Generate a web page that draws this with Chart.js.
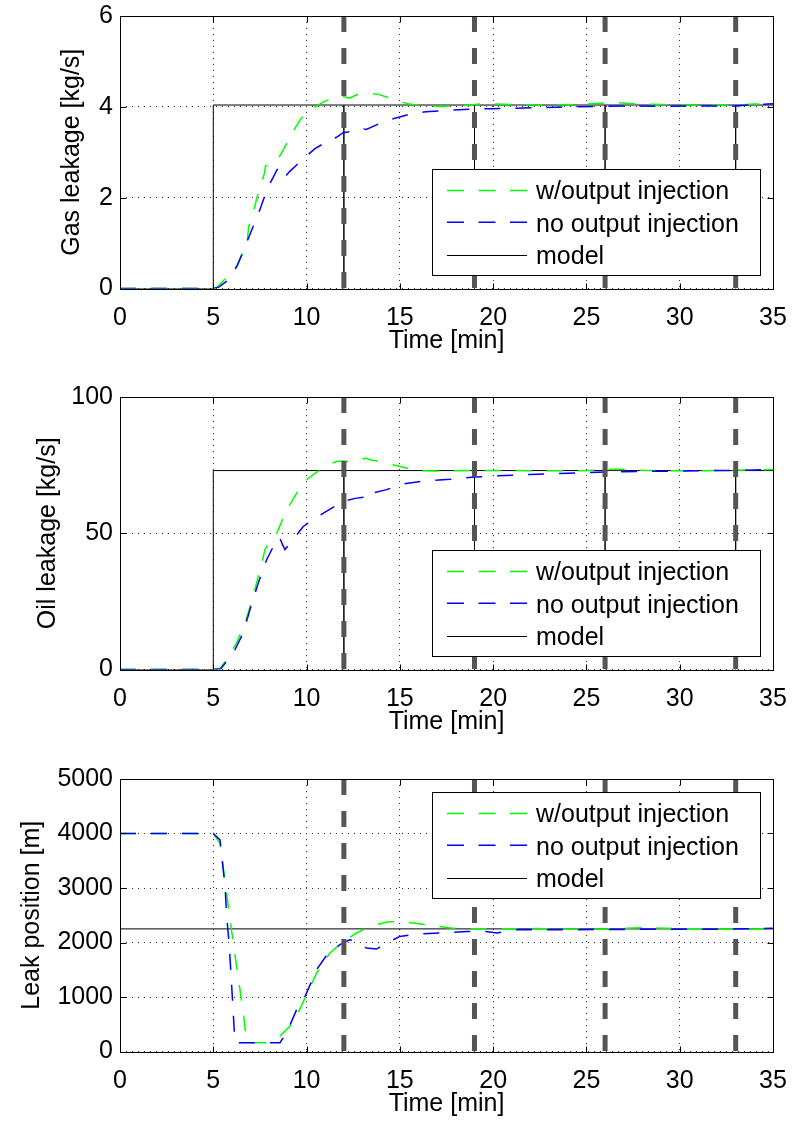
<!DOCTYPE html>
<html><head><meta charset="utf-8">
<script src="https://cdn.jsdelivr.net/npm/chart.js@4/dist/chart.umd.min.js"></script>
<style>
html,body{margin:0;padding:0;background:#fff;}
body{width:792px;height:1124px;position:relative;overflow:hidden;}
canvas{position:absolute;left:0;display:block;}
</style></head><body>
<canvas id="c1" width="792" height="375" style="top:0px"></canvas>
<canvas id="c2" width="792" height="375" style="top:381px"></canvas>
<canvas id="c3" width="792" height="361" style="top:763px"></canvas>
<script>
const FONT = "'Liberation Sans', Arial, Helvetica, sans-serif";

// ---- shared axis data ----
const timeTicks = [0, 5, 10, 15, 20, 25, 30, 35];
const sampleTimes = [12, 19, 26, 33];
const leakStart = 5;
const seriesLabels = ['w/output injection', 'no output injection', 'model'];

// ---- Gas leakage [kg/s] ----
const gasTicks = [0, 2, 4, 6];
const gasInjT = [0, 5, 5.2, 5.6, 6.0, 6.3, 6.6, 6.8, 6.9, 7.1, 7.35, 7.6, 7.75, 7.8, 8.0, 8.2, 8.4, 8.75, 9.2, 9.7, 10.2, 10.9, 11.6, 12.0, 12.3, 12.7, 13.2, 13.8, 14.6, 15.0, 15.5, 16.2, 17.3, 18.5, 19.5, 21, 23, 25, 26.4, 27.5, 29, 31, 33, 34, 35];
const gasInjV = [0, 0, 0.03, 0.2, 0.38, 0.52, 0.8, 0.98, 1.36, 1.6, 2.02, 2.35, 2.55, 2.7, 2.72, 2.75, 2.8, 3.05, 3.41, 3.74, 3.93, 4.11, 4.22, 4.22, 4.19, 4.27, 4.30, 4.28, 4.18, 4.12, 4.06, 4.02, 4.01, 4.03, 4.07, 4.05, 4.04, 4.06, 4.10, 4.07, 4.05, 4.04, 4.04, 4.06, 4.08];
const gasNoT = [0, 5, 5.3, 5.9, 6.3, 6.7, 7.06, 7.4, 7.68, 8.04, 8.4, 8.5, 8.65, 8.84, 9.1, 9.47, 10.0, 10.45, 11.07, 11.6, 11.96, 12.4, 12.9, 13.0, 13.2, 13.9, 14.5, 15.18, 15.8, 16.4, 17.7, 18.9, 20, 22.1, 24, 25.7, 27, 29.3, 31, 33, 34, 35];
const gasNoV = [0, 0, 0.03, 0.22, 0.52, 0.92, 1.29, 1.62, 1.95, 2.31, 2.6, 2.66, 2.5, 2.46, 2.58, 2.72, 2.92, 3.08, 3.23, 3.33, 3.43, 3.46, 3.48, 3.52, 3.5, 3.63, 3.72, 3.8, 3.86, 3.89, 3.93, 3.95, 3.96, 3.98, 4.0, 4.01, 4.02, 4.01, 4.02, 4.02, 4.05, 4.07];
const gasModel = 4.04;

// ---- Oil leakage [kg/s] ----
const oilTicks = [0, 50, 100];
const oilInjT = [0, 5, 5.36, 5.8, 6.25, 6.7, 6.97, 7.32, 7.6, 7.77, 7.86, 8.1, 8.4, 8.93, 9.47, 10.09, 10.72, 11.2, 11.6, 12.0, 12.4, 12.68, 13.2, 13.5, 13.9, 14.5, 15.18, 15.9, 17.3, 19, 21, 23, 25, 26.5, 28, 30, 32, 34, 35];
const oilInjV = [0, 0, 0.3, 4.5, 9.8, 17, 23, 31.7, 39, 44, 45, 47.5, 50, 58.6, 64.7, 70.2, 73.3, 75.2, 76.3, 76.5, 76.0, 76.9, 77.5, 76.8, 76.5, 75.3, 74.2, 73, 72.8, 73.1, 73.0, 72.9, 73.0, 73.5, 73.1, 72.9, 73.0, 73.2, 73.4];
const oilNoT = [0, 5, 5.4, 6.07, 6.6, 6.97, 7.41, 7.86, 8.4, 8.55, 8.7, 8.84, 9.2, 9.82, 10.9, 11.96, 12.6, 13.04, 13.2, 13.4, 14.29, 15.18, 16.4, 17.7, 19, 20, 22, 24, 26, 28, 30, 32, 34, 35];
const oilNoV = [0, 0, 0.3, 6, 13.4, 22, 31.7, 40.3, 47.6, 48.5, 46, 44, 47, 52.5, 57.4, 61.7, 62.8, 63.2, 62.5, 64.5, 66, 68.1, 69.3, 69.8, 70.6, 71.0, 71.6, 72.0, 72.5, 72.7, 72.8, 73.0, 73.2, 73.4];
const oilModel = 73;

// ---- Leak position [m] ----
const posTicks = [0, 1000, 2000, 3000, 4000, 5000];
const posInjT = [0, 5, 5.36, 5.9, 6.25, 6.61, 6.79, 7.86, 8.2, 8.57, 9.29, 9.92, 10.54, 11.25, 11.96, 12.68, 13.4, 14.29, 15.0, 16.4, 17.7, 18.6, 20, 22, 24, 26, 28, 30, 32, 34, 35];
const posInjV = [4000, 4000, 3822, 2418, 1562, 709, 160, 160, 220, 282, 526, 983, 1441, 1808, 2020, 2174, 2296, 2375, 2387, 2326, 2265, 2253, 2250, 2255, 2250, 2250, 2270, 2255, 2250, 2250, 2255];
const posNoT = [0, 5, 5.36, 5.63, 5.72, 5.86, 6.07, 6.16, 8.57, 8.93, 9.47, 9.92, 10.54, 11.16, 11.79, 12.3, 12.68, 13.2, 13.75, 14.29, 15.0, 16.1, 17.7, 18.6, 19.6, 20.2, 21.25, 24, 27, 29.3, 32, 35];
const posNoV = [4000, 4000, 3883, 3028, 2478, 1929, 709, 160, 160, 343, 770, 1013, 1502, 1808, 1960, 2051, 2020, 1900, 1880, 1990, 2112, 2160, 2185, 2204, 2200, 2174, 2234, 2234, 2240, 2245, 2245, 2260];
const posModel = 2250;

// ---- helpers ----
const zip = (t, v) => t.map((x, i) => ({x, y: v[i]}));
const xMax = timeTicks[timeTicks.length - 1];
function stepModel(level) {
  const d = [{x: 0, y: 0}, {x: leakStart, y: 0}, {x: leakStart, y: level}];
  sampleTimes.forEach(s => d.push({x: s, y: level}, {x: s, y: 0}, {x: s, y: level}));
  d.push({x: xMax, y: level});
  return d;
}
const flatModel = level => [{x: 0, y: level}, {x: xMax, y: level}];

const SERIES_DASH = [16, 15];
function datasets(injData, noData, modelData, yMin, yMax) {
  const ds = [
    {label: seriesLabels[0], data: injData, borderColor: '#00ff00', borderWidth: 1.5, borderDash: SERIES_DASH, order: 4, inLegend: true},
    {label: seriesLabels[1], data: noData, borderColor: '#0000ff', borderWidth: 1.5, borderDash: SERIES_DASH, order: 3, inLegend: true},
    {label: seriesLabels[2], data: modelData, borderColor: '#000000', borderWidth: 1, borderDash: [], order: 5, inLegend: true}
  ];
  sampleTimes.forEach(s => ds.push({label: 'sample ' + s, data: [{x: s, y: yMax}, {x: s, y: yMin}], borderColor: '#555555', borderWidth: 5, borderDash: [16, 16], borderCapStyle: 'butt', order: 1}));
  ds.forEach(d => { d.pointRadius = 0; d.tension = 0; d.fill = false; });
  return ds;
}

const boxPlugin = {
  id: 'boxLegend',
  afterDraw(chart) {
    const {ctx, chartArea: a, scales: {x, y}} = chart;
    const opts = chart.options.plugins.boxLegend;
    ctx.save();
    ctx.setLineDash([]);
    ctx.strokeStyle = '#000'; ctx.lineWidth = 1;
    const L = Math.round(a.left) + 0.5, R = Math.round(a.right) + 0.5, T = Math.round(a.top) + 0.5, B = Math.round(a.bottom) + 0.5;
    ctx.strokeRect(L, T, R - L, B - T);
    ctx.beginPath();
    x.ticks.forEach(t => { const p = Math.round(x.getPixelForValue(t.value)) + 0.5; ctx.moveTo(p, B); ctx.lineTo(p, B - 6); ctx.moveTo(p, T); ctx.lineTo(p, T + 6); });
    y.ticks.forEach(t => { const p = Math.round(y.getPixelForValue(t.value)) + 0.5; ctx.moveTo(L, p); ctx.lineTo(L + 6, p); ctx.moveTo(R, p); ctx.lineTo(R - 6, p); });
    ctx.stroke();
    // legend box
    const bx = 432.5, by = Math.round(a.top + opts.top) + 0.5, bw = 328, bh = 106;
    ctx.fillStyle = '#fff'; ctx.fillRect(bx, by, bw, bh);
    ctx.strokeRect(bx, by, bw, bh);
    const lineYs = [21, 52.7, 86], baseYs = [29.3, 62.7, 94.3];
    chart.data.datasets.filter(d => d.inLegend).forEach((d, i) => {
      ctx.strokeStyle = d.borderColor; ctx.lineWidth = d.borderWidth;
      ctx.setLineDash(d.borderDash.length ? [17, 14.5] : []);
      ctx.beginPath(); ctx.moveTo(447, by + lineYs[i]); ctx.lineTo(527, by + lineYs[i]); ctx.stroke();
      ctx.setLineDash([]);
      ctx.fillStyle = '#000'; ctx.font = '25px ' + FONT; ctx.textBaseline = 'alphabetic'; ctx.textAlign = 'left';
      ctx.fillText(d.label, 536, by + baseYs[i]);
    });
    ctx.restore();
  }
};

function makeChart(id, H, ds, yTicks, yTitle, yTitlePad, legendTop) {
  const xAxisH = H - 288.5;
  return new Chart(document.getElementById(id), {
    type: 'line',
    data: {datasets: ds},
    options: {
      responsive: false, animation: false, devicePixelRatio: 1,
      layout: {padding: {top: 16, right: 19, left: 0, bottom: 0}},
      plugins: {legend: {display: false}, tooltip: {enabled: false}, boxLegend: {top: legendTop}},
      scales: {
        x: {
          type: 'linear', min: timeTicks[0], max: xMax,
          afterFit: s => { s.height = xAxisH; s.paddingLeft = 0; s.paddingRight = 0; },
          ticks: {stepSize: timeTicks[1] - timeTicks[0], padding: 15, color: '#000', font: {family: FONT, size: 25}, maxRotation: 0, autoSkip: false, callback: v => String(v)},
          grid: {color: '#333', lineWidth: 1, drawTicks: false},
          border: {display: false, dash: [1, 5]},
          title: {display: true, text: 'Time [min]', color: '#000', font: {family: FONT, size: 25}, padding: {top: 0, bottom: xAxisH - 68}}
        },
        y: {
          type: 'linear', min: yTicks[0], max: yTicks[yTicks.length - 1],
          afterFit: s => { s.width = 120; s.paddingTop = 0; s.paddingBottom = 0; },
          ticks: {stepSize: yTicks[1] - yTicks[0], padding: 7, color: '#000', font: {family: FONT, size: 25}, callback: v => String(v)},
          grid: {color: '#333', lineWidth: 1, drawTicks: false},
          border: {display: false, dash: [1, 5]},
          title: {display: true, text: yTitle, color: '#000', font: {family: FONT, size: 25}, padding: {top: yTitlePad, bottom: 0}}
        }
      }
    },
    plugins: [boxPlugin]
  });
}

makeChart('c1', 375,
  datasets(zip(gasInjT, gasInjV), zip(gasNoT, gasNoV), stepModel(gasModel), gasTicks[0], gasTicks[gasTicks.length - 1]),
  gasTicks, 'Gas leakage [kg/s]', 57, 153);
makeChart('c2', 375,
  datasets(zip(oilInjT, oilInjV), zip(oilNoT, oilNoV), stepModel(oilModel), oilTicks[0], oilTicks[oilTicks.length - 1]),
  oilTicks, 'Oil leakage [kg/s]', 33, 153);
makeChart('c3', 361,
  datasets(zip(posInjT, posInjV), zip(posNoT, posNoV), flatModel(posModel), posTicks[0], posTicks[posTicks.length - 1]),
  posTicks, 'Leak position [m]', 17, 13);
</script>
</body></html>
